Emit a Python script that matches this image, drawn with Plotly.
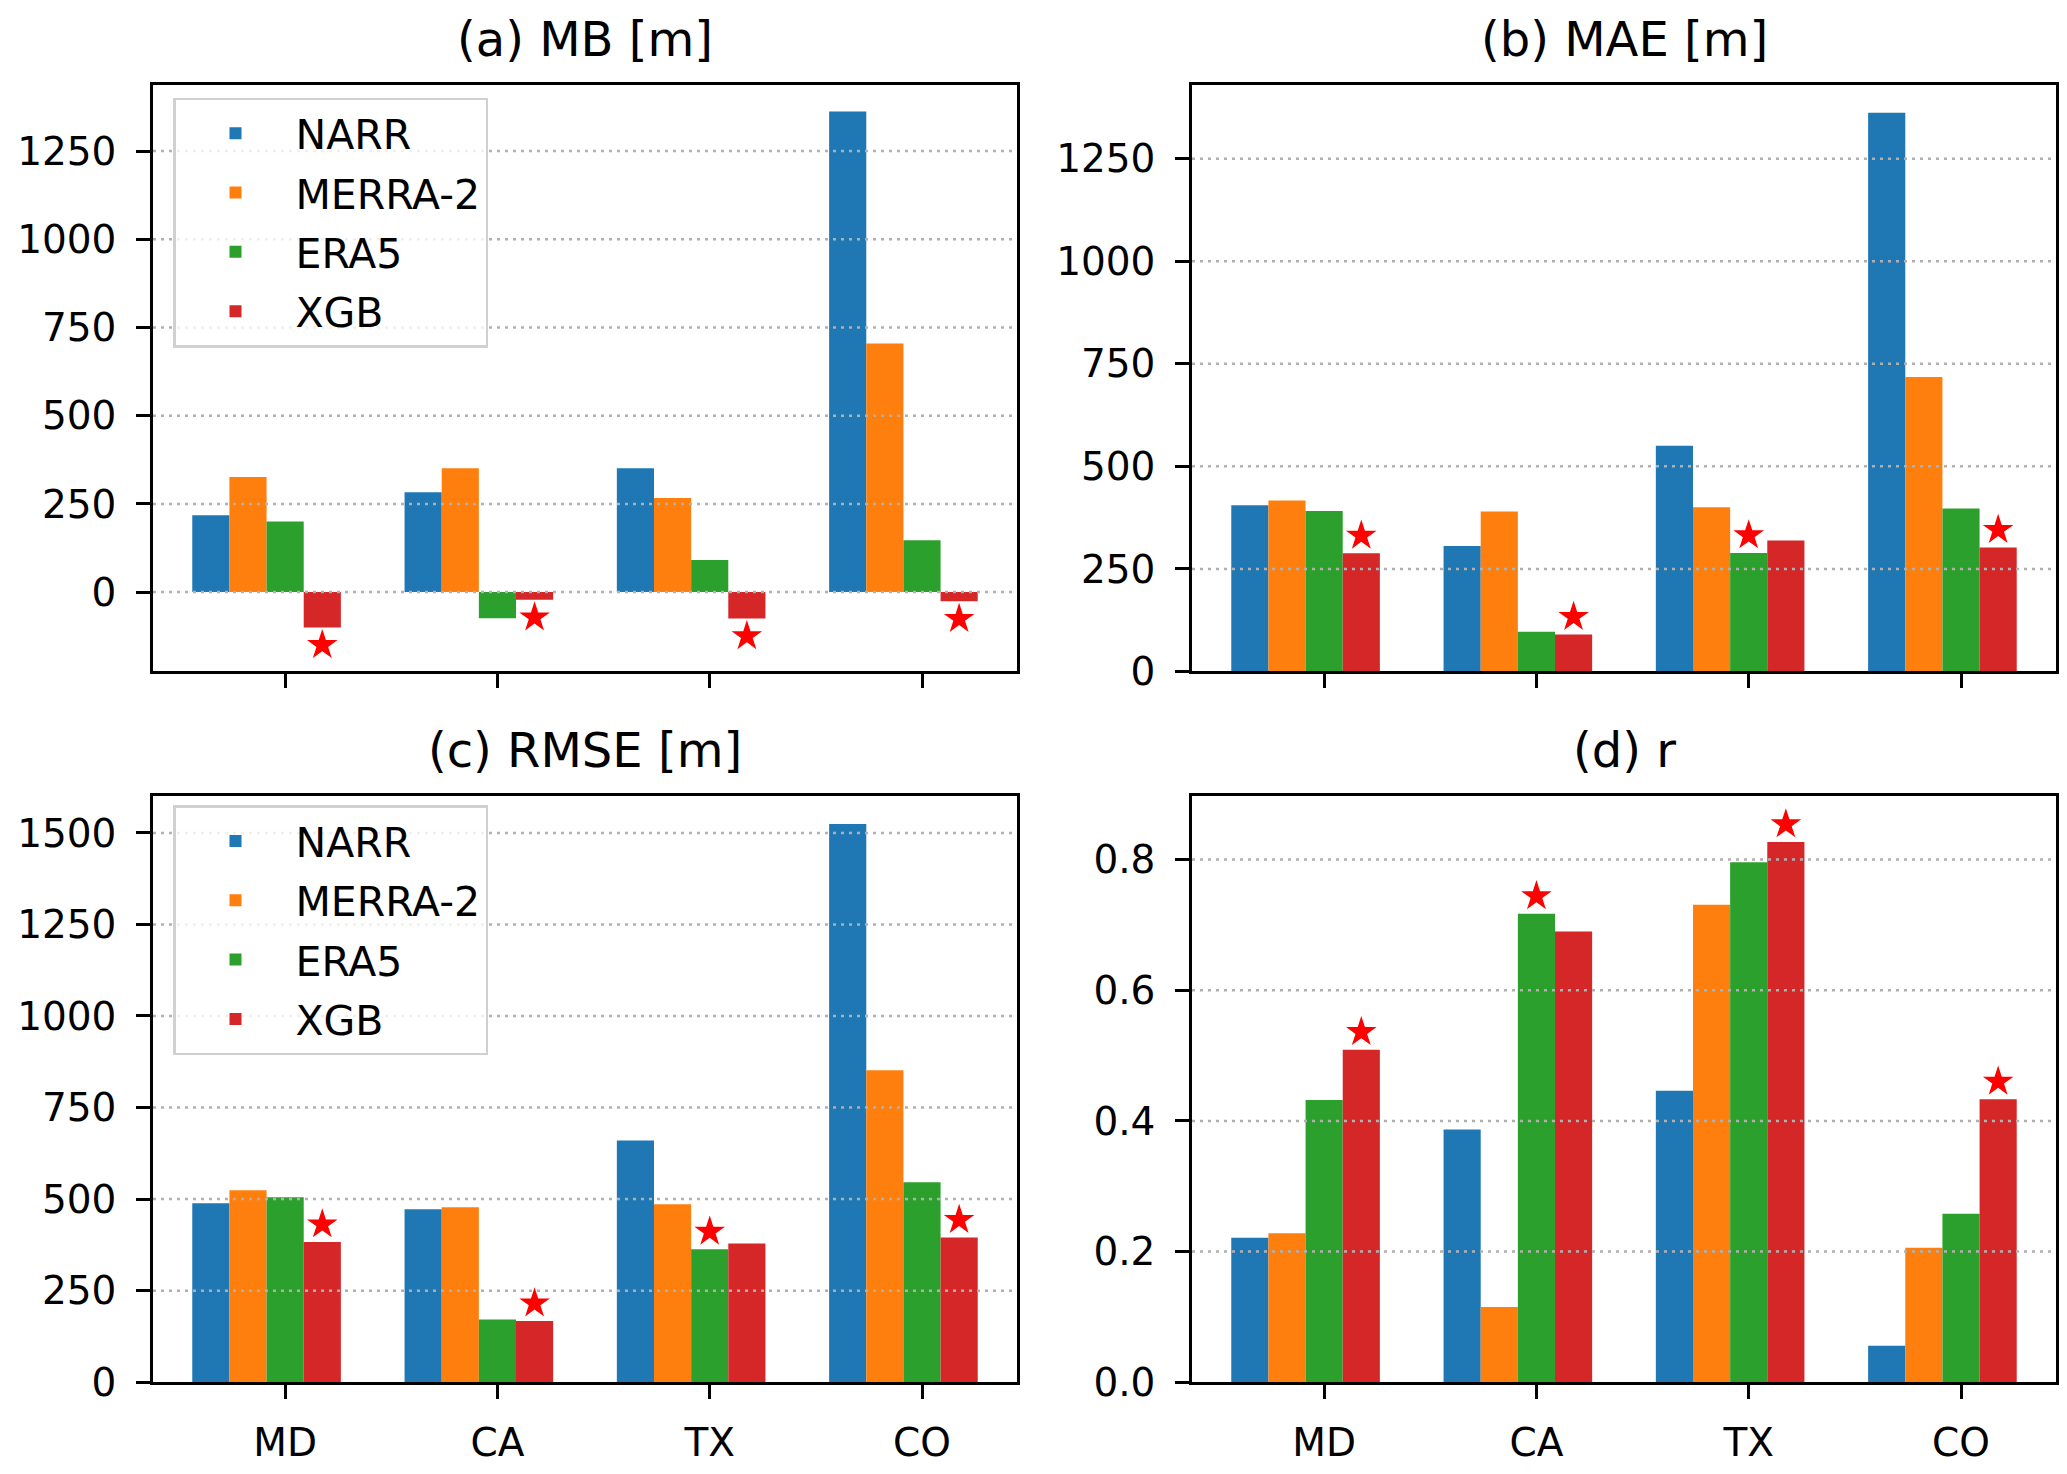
import plotly.graph_objects as go

sites = ["MD", "CA", "TX", "CO"]
models = ["NARR", "MERRA-2", "ERA5", "XGB"]
colors = ["#1f77b4", "#ff7f0e", "#2ca02c", "#d62728"]

# values read per site: MD, CA, TX, CO
mb_narr = [218, 283, 351, 1362]
mb_merra = [326, 351, 267, 705]
mb_era5 = [200, -74, 91, 147]
mb_xgb = [-100, -22, -75, -26]

mae_narr = [405, 306, 550, 1362]
mae_merra = [417, 390, 400, 718]
mae_era5 = [391, 97, 289, 397]
mae_xgb = [288, 90, 319, 302]

rmse_narr = [489, 472, 660, 1524]
rmse_merra = [524, 478, 486, 852]
rmse_era5 = [505, 171, 363, 546]
rmse_xgb = [383, 167, 379, 395]

r_narr = [0.221, 0.387, 0.446, 0.056]
r_merra = [0.228, 0.115, 0.731, 0.206]
r_era5 = [0.432, 0.717, 0.796, 0.258]
r_xgb = [0.509, 0.690, 0.827, 0.433]

m_ticks = [0, 250, 500, 750, 1000, 1250]
rmse_ticks = [0, 250, 500, 750, 1000, 1250, 1500]
r_ticks = [0.0, 0.2, 0.4, 0.6, 0.8]

W, H = 2067, 1474
bar_w = 0.175
xr = [-0.6225, 3.4475]
grid_col = "#b0b0b0"
pos = list(range(len(sites)))


def best_of(series, key):
    # index of the best model at each site (gets the red star)
    out = []
    for j in range(len(sites)):
        vals = [s[j] for s in series]
        out.append(vals.index(key(vals)))
    return out


panels = [
    dict(title="(a) MB [m]", series=[mb_narr, mb_merra, mb_era5, mb_xgb],
         best=lambda v: min(v, key=abs), ticks=m_ticks, yr=[-225, 1438],
         xd=[145 / W, 1009 / W], yd=[1 - 674 / H, 1 - 78 / H], legend="legend", xlabels=False, fmt=""),
    dict(title="(b) MAE [m]", series=[mae_narr, mae_merra, mae_era5, mae_xgb],
         best=min, ticks=m_ticks, yr=[0, 1430],
         xd=[1184 / W, 2048 / W], yd=[1 - 674 / H, 1 - 78 / H], legend=None, xlabels=False, fmt=""),
    dict(title="(c) RMSE [m]", series=[rmse_narr, rmse_merra, rmse_era5, rmse_xgb],
         best=min, ticks=rmse_ticks, yr=[0, 1602],
         xd=[145 / W, 1009 / W], yd=[1 - 1396 / H, 1 - 800 / H], legend="legend2", xlabels=True, fmt=""),
    dict(title="(d) r", series=[r_narr, r_merra, r_era5, r_xgb],
         best=max, ticks=r_ticks, yr=[0, 0.898],
         xd=[1184 / W, 2048 / W], yd=[1 - 1396 / H, 1 - 800 / H], legend=None, xlabels=True, fmt=".1f"),
]

fig = go.Figure()
shapes = []
annotations = []

for n, p in enumerate(panels, start=1):
    sfx = "" if n == 1 else str(n)
    xa, ya = "x" + sfx, "y" + sfx
    for i, (name, vals) in enumerate(zip(models, p["series"])):
        fig.add_trace(go.Bar(
            x=pos, y=vals, name=name,
            width=bar_w, offset=(i - 2.5) * bar_w,
            marker=dict(color=colors[i], line=dict(width=0)),
            xaxis=xa, yaxis=ya,
            legend=p["legend"] if p["legend"] else "legend",
            legendgroup=name,
            showlegend=p["legend"] is not None,
        ))

    # red star just beyond the best bar of each site
    best = best_of(p["series"], p["best"])
    gap = 0.03 * (p["yr"][1] - p["yr"][0])
    sx, sy = [], []
    for j, b in enumerate(best):
        v = p["series"][b][j]
        sx.append(j + (b - 2) * bar_w)
        sy.append(v + gap if v >= 0 else v - gap)
    fig.add_trace(go.Scatter(
        x=sx, y=sy, mode="markers", showlegend=False, cliponaxis=False,
        marker=dict(symbol="star", size=23, color="#ff0000", line=dict(width=0)),
        xaxis=xa, yaxis=ya,
    ))

    fig.layout["xaxis" + sfx] = dict(
        domain=p["xd"], anchor=ya, range=xr, tickvals=pos, ticktext=sites,
        showgrid=False, zeroline=False,
        showline=True, mirror=True, linecolor="black", linewidth=2.5,
        ticks="outside", ticklen=14, tickwidth=2.5, tickcolor="black",
        showticklabels=p["xlabels"], tickfont=dict(size=39, color="black"),
        ticklabelstandoff=10,
    )
    fig.layout["yaxis" + sfx] = dict(
        domain=p["yd"], anchor=xa, range=p["yr"], tickvals=p["ticks"],
        tickformat=p["fmt"], showgrid=False, zeroline=False,
        showline=True, mirror=True, linecolor="black", linewidth=2.5,
        ticks="outside", ticklen=14, tickwidth=2.5, tickcolor="black",
        tickfont=dict(size=39, color="black"), ticklabelstandoff=12,
    )

    # dotted grid drawn over the bars, as in the source figure
    for t in p["ticks"]:
        if t > p["yr"][0]:
            shapes.append(dict(
                type="line", xref=xa + " domain", x0=0, x1=1,
                yref=ya, y0=t, y1=t, layer="above",
                line=dict(color=grid_col, width=2.5, dash="3px,5px"),
            ))

    annotations.append(dict(
        text=p["title"], xref=xa + " domain", yref=ya + " domain",
        x=0.5, y=1, xanchor="center", yanchor="bottom", yshift=16,
        showarrow=False, font=dict(size=48, color="black"),
    ))

legend_style = dict(
    xanchor="left", yanchor="top", bgcolor="rgba(255,255,255,0.8)",
    bordercolor="#d0d0d0", borderwidth=2.5, font=dict(size=41, color="black"),
    itemwidth=110, tracegroupgap=3,
)

fig.update_layout(
    width=W, height=H,
    margin=dict(l=0, r=0, t=0, b=0),
    barmode="overlay",
    plot_bgcolor="white", paper_bgcolor="white",
    font=dict(family="DejaVu Sans", color="black"),
    shapes=shapes, annotations=annotations,
    legend=dict(x=165 / W, y=1 - 91 / H, **legend_style),
    legend2=dict(x=165 / W, y=1 - 810 / H, **legend_style),
)

fig.write_html("out.html")
